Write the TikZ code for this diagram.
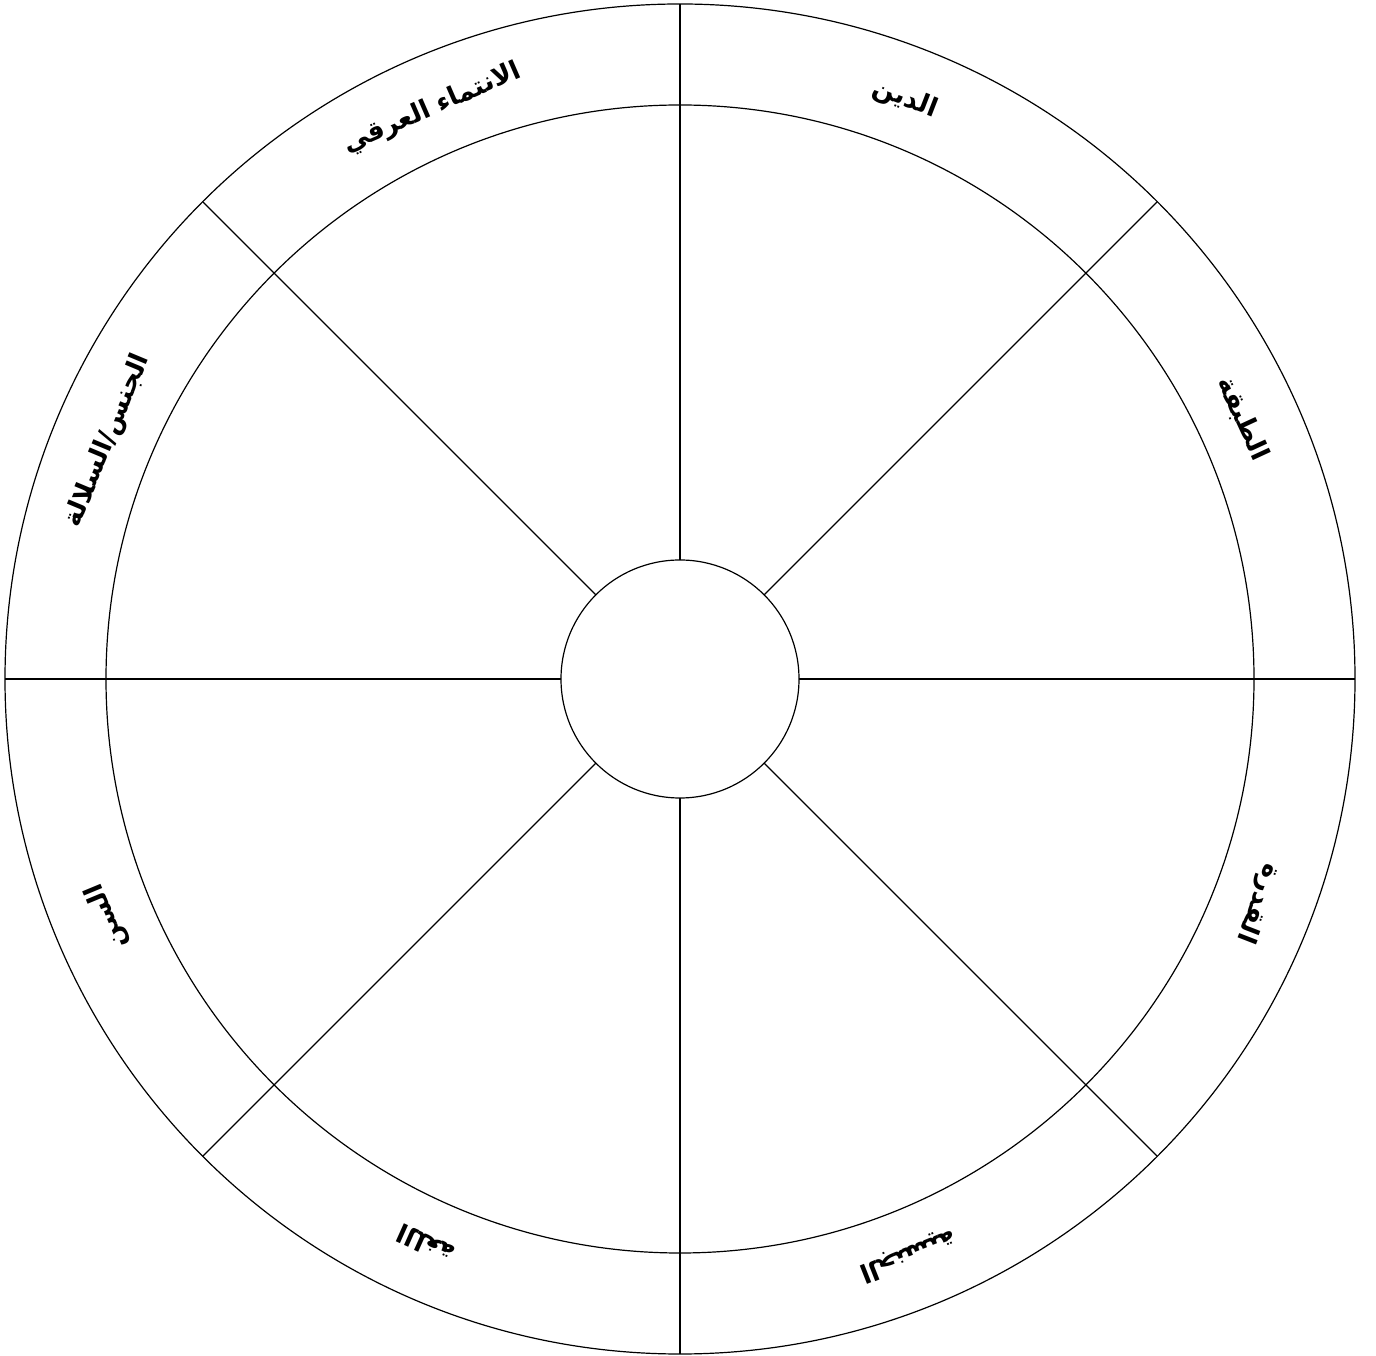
\documentclass[tikz,border=0pt]{standalone}
\usepackage{fontspec}
\TeXXeTstate=1
\newfontfamily\arabicfont[Script=Arabic]{DejaVu Sans}
\begin{document}
\begin{tikzpicture}[x=0.5pt,y=0.5pt]
\tikzset{
  ring/.style={circle, draw, line width=0.6pt, inner sep=0pt, outer sep=0pt},
  spoke/.style={line width=0.6pt},
  lbl/.style={font=\arabicfont\bfseries\fontsize{13}{15}\selectfont, inner sep=0pt}
}
\useasboundingbox (0,0) rectangle (1376,1355);
\coordinate (c) at (680,676);
\node[ring, minimum size=675pt] (outer) at (c) {};
\node[ring, minimum size=574pt] (inner) at (c) {};
\node[ring, minimum size=119pt] (hub) at (c) {};
\foreach \a in {0,45,...,315}{
  \draw[spoke] (hub.\a) -- (outer.\a);
}
\node[lbl, rotate=23.5] (ethnic) at ([shift={(113.5:622)}]c) {\beginR الانتماء العرقي\endR};
\node[lbl, rotate=-21.2] (religion) at ([shift={(68.8:622)}]c) {\beginR الدين\endR};
\node[lbl, rotate=-65.2] (class) at ([shift={(24.8:620)}]c) {\beginR الطبقة\endR};
\node[lbl, rotate=-111.2] (ability) at ([shift={(-21.2:620)}]c) {\beginR القدرة\endR};
\node[lbl, rotate=-158.4] (nation) at ([shift={(-68.4:620)}]c) {\beginR الجنسية\endR};
\node[lbl, rotate=155.8] (language) at ([shift={(-114.2:620)}]c) {\beginR اللغة\endR};
\node[lbl, rotate=112.5] (age) at ([shift={(-157.5:620)}]c) {\beginR السن\endR};
\node[lbl, rotate=67.4] (race) at ([shift={(157.4:620)}]c) {\beginR الجنس/السلالة\endR};
\end{tikzpicture}
\end{document}
